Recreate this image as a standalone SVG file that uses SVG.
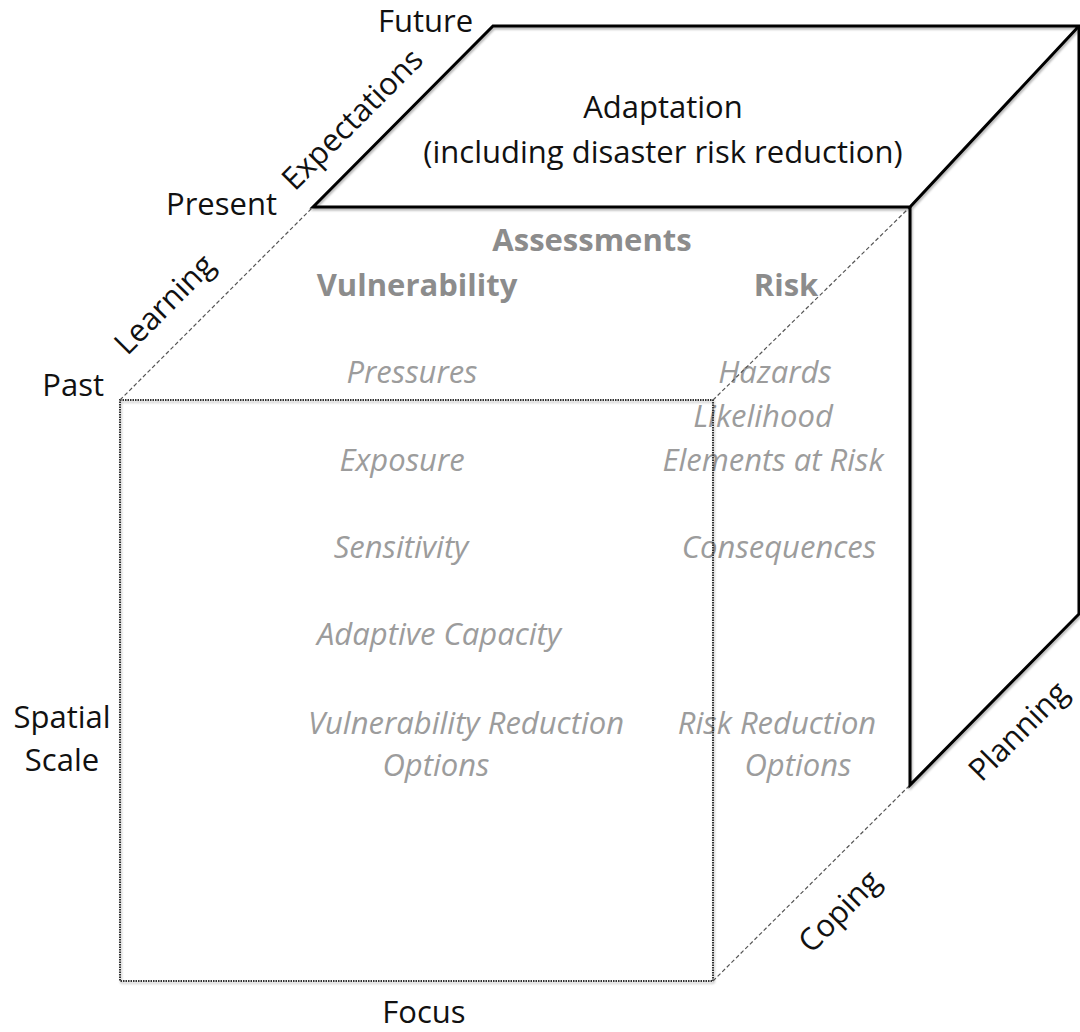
<svg xmlns="http://www.w3.org/2000/svg" width="1080" height="1032" viewBox="0 0 1080 1032">
  <defs>
    <filter id="soft" filterUnits="userSpaceOnUse" x="0" y="0" width="1080" height="1032">
      <feDropShadow dx="1" dy="2" stdDeviation="1.2" flood-color="#000" flood-opacity="0.3"/>
    </filter>
  </defs>
  <style>
    text { font-family: "Open Sans", "Liberation Sans", sans-serif; font-size: 31px; }
    .lbl { fill: #111; }
    .head { font-weight: 700; fill: #8c8c8c; }
    .item { font-style: italic; fill: #9c9c9c; }
    .mid { text-anchor: middle; }
    .solid { stroke: #000; stroke-width: 3; fill: none; stroke-linejoin: miter; }
    .dash { stroke: #555; stroke-width: 1.2; stroke-dasharray: 4 2.5; fill: none; }
    .dot { stroke: #333; stroke-width: 2; stroke-dasharray: 1.5 1; fill: none; }
  </style>

  <rect width="1080" height="1032" fill="#fff"/>

  <!-- top face: adaptation -->
  <g id="adaptation">
    <text class="lbl mid" x="663" y="118">Adaptation</text>
    <text class="lbl mid" x="663" y="163">(including disaster risk reduction)</text>
  </g>

  <!-- front face: assessments -->
  <g id="assessments">
    <text class="head mid" x="592" y="251">Assessments</text>
  </g>
  <g id="vulnerability">
    <text class="head mid" x="417" y="296">Vulnerability</text>
    <text class="item mid" x="412" y="383">Pressures</text>
    <text class="item mid" x="402" y="471">Exposure</text>
    <text class="item mid" x="401" y="558">Sensitivity</text>
    <text class="item mid" x="439" y="645">Adaptive Capacity</text>
    <text class="item mid" x="466" y="734">Vulnerability Reduction</text>
    <text class="item mid" x="436" y="776">Options</text>
  </g>
  <g id="risk">
    <text class="head mid" x="786" y="296">Risk</text>
    <text class="item mid" x="775" y="383">Hazards</text>
    <text class="item mid" x="763" y="427">Likelihood</text>
    <text class="item mid" x="773" y="471">Elements at Risk</text>
    <text class="item mid" x="779" y="558">Consequences</text>
    <text class="item mid" x="777" y="734">Risk Reduction</text>
    <text class="item mid" x="798" y="776">Options</text>
  </g>

  <!-- axis labels -->
  <g id="time-axis">
    <text class="lbl" x="378" y="32">Future</text>
    <text class="lbl" x="277" y="215" text-anchor="end">Present</text>
    <text class="lbl" x="104" y="396" text-anchor="end">Past</text>
    <text class="lbl mid" transform="translate(352,119) rotate(-45)" y="11">Expectations</text>
    <text class="lbl mid" transform="translate(164,304) rotate(-45)" y="11">Learning</text>
  </g>
  <g id="scale-axis">
    <text class="lbl mid" x="62" y="728">Spatial</text>
    <text class="lbl mid" x="62" y="771">Scale</text>
  </g>
  <g id="focus-axis">
    <text class="lbl mid" x="424" y="1023">Focus</text>
  </g>
  <g id="response-axis">
    <text class="lbl mid" transform="translate(839,911) rotate(-45)" y="11">Coping</text>
    <text class="lbl mid" transform="translate(1018,731) rotate(-45)" y="11">Planning</text>
  </g>

  <!-- cube edges -->
  <g id="edges">
    <g filter="url(#soft)">
      <rect class="dot" x="120" y="400" width="593" height="581"/>
    </g>
    <path class="dash" d="M120,400 L313,207 M713,400 L910,207 M713,981 L910,785"/>
    <g filter="url(#soft)">
      <path class="solid" d="M313,207 L493,26 L1079,26 L910,207 Z"/>
      <path class="solid" d="M910,207 L910,785 L1079,614 L1079,26"/>
    </g>
  </g>
</svg>
